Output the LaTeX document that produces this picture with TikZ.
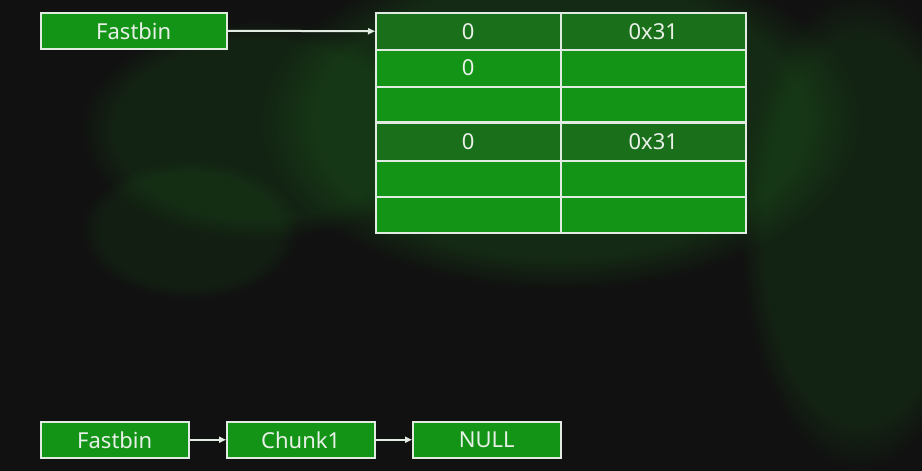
\documentclass[tikz,border=0pt]{standalone}
\usepackage{fontspec}
\setmainfont{Noto Sans}
\usetikzlibrary{arrows.meta,fadings}
\definecolor{bg}{RGB}{17,17,17}
\definecolor{boxg}{RGB}{20,148,22}
\definecolor{darkg}{RGB}{26,112,26}
\definecolor{edge}{RGB}{225,235,225}
\definecolor{txt}{RGB}{232,240,232}
\definecolor{glow}{RGB}{30,110,30}
\tikzset{
  gbox/.style={draw=edge, line width=1.5pt, fill=boxg, text=txt, font=\fontsize{22}{26}\selectfont, inner sep=0pt, anchor=north west},
  cell/.style={draw=edge, line width=1.5pt, fill=boxg, text=txt, font=\fontsize{22}{26}\selectfont, inner sep=0pt, anchor=north west, minimum width=185pt, minimum height=37pt},
  hcell/.style={cell, fill=darkg},
  arr/.style={draw=edge, line width=2pt, -{Triangle[length=7pt,width=6pt]}},
  glowfill/.style={fill=glow, path fading=circle with fuzzy edge 20 percent}
}
\begin{document}
\begin{tikzpicture}[x=1pt,y=-1pt]
\useasboundingbox (0,0) rectangle (922,471);
\fill[bg] (0,0) rectangle (922,471);
% faint background glow
\fill[glowfill, opacity=0.28] (560,120) ellipse (300 and 170);
\fill[glowfill, opacity=0.2] (260,130) ellipse (180 and 110);
\fill[glowfill, opacity=0.2] (860,230) ellipse (120 and 240);
\fill[glowfill, opacity=0.15] (190,230) ellipse (110 and 70);
% top fastbin
\node[gbox, minimum width=186pt, minimum height=36pt] (fb1) at (40,12) {Fastbin};
% table
\node[hcell] (c11) at (375,12) {0};
\node[hcell] (c12) at (560,12) {0x31};
\node[cell] (c21) at (375,49) {\raisebox{2pt}{0}};
\node[cell] (c22) at (560,49) {};
\node[cell, minimum height=36pt] (c31) at (375,86) {};
\node[cell, minimum height=36pt] (c32) at (560,86) {};
\node[hcell, minimum height=38pt] (c41) at (375,122) {0};
\node[hcell, minimum height=38pt] (c42) at (560,122) {0x31};
\node[cell, minimum height=36pt] (c51) at (375,160) {};
\node[cell, minimum height=36pt] (c52) at (560,160) {};
\node[cell, minimum height=36pt] (c61) at (375,196) {};
\node[cell, minimum height=36pt] (c62) at (560,196) {};
\draw[draw=edge, line width=2.2pt] (c41.north west) -- (c42.north east);
\draw[arr] (fb1.east) -- (c11.west);
% bottom list
\node[gbox, minimum width=148pt, minimum height=36pt] (fb2) at (40,421) {Fastbin};
\node[gbox, minimum width=148pt, minimum height=36pt] (ch1) at (226,421) {Chunk1};
\node[gbox, minimum width=148pt, minimum height=36pt] (nul) at (412,421) {NULL};
\draw[arr] (fb2.east) -- (ch1.west);
\draw[arr] (ch1.east) -- (nul.west);
\end{tikzpicture}
\end{document}
